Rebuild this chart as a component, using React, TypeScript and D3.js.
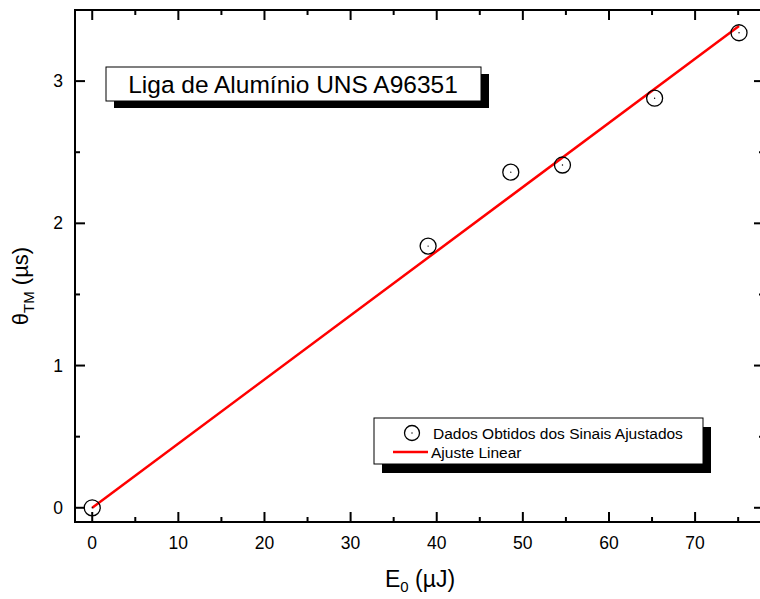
import React from "react";
import * as d3 from "d3";

const energy = [0, 39.0, 48.6, 54.6, 65.3, 75.1];
const theta = [0, 1.84, 2.36, 2.41, 2.88, 3.34];
const fitX = [0, 75.1];
const fitSlope = 0.0451;
const fitIntercept = 0;
const xMajor = [0, 10, 20, 30, 40, 50, 60, 70];
const xMinor = [5, 15, 25, 35, 45, 55, 65, 75];
const yMajor = [0, 1, 2, 3];
const yMinor = [0.5, 1.5, 2.5];
const titleText = "Liga de Alumínio UNS A96351";
const legendLabels = ["Dados Obtidos dos Sinais Ajustados", "Ajuste Linear"];

const W = 760;
const H = 599;
const L = 75, R = 764, T = 10, B = 522;
const FONT = "'Liberation Sans', Arial, sans-serif";

export default function App() {
  const x = d3.scaleLinear().domain([-2, 78]).range([L, R]);
  const y = d3.scaleLinear().domain([-0.1, 3.5]).range([B, T]);
  const line = d3.line<number>().x((d) => x(d)).y((d) => y(fitIntercept + fitSlope * d));

  return (
    <svg width={W} height={H} style={{ position: "absolute", left: 0, top: 0, background: "#fff" }} fontFamily={FONT}>
      <rect x={0} y={0} width={W} height={H} fill="#fff" />
      {/* frame */}
      <rect x={L} y={T} width={R - L} height={B - T} fill="none" stroke="#000" strokeWidth={2} />
      {/* x ticks bottom & top */}
      {xMajor.map((t) => (
        <g key={"xm" + t}>
          <line x1={x(t)} x2={x(t)} y1={B} y2={B - 10} stroke="#000" strokeWidth={2} />
          <line x1={x(t)} x2={x(t)} y1={T} y2={T + 10} stroke="#000" strokeWidth={2} />
          <text x={x(t)} y={549} textAnchor="middle" fontSize={17.5}>{t}</text>
        </g>
      ))}
      {xMinor.map((t) => (
        <g key={"xn" + t}>
          <line x1={x(t)} x2={x(t)} y1={B} y2={B - 5} stroke="#000" strokeWidth={2} />
          <line x1={x(t)} x2={x(t)} y1={T} y2={T + 5} stroke="#000" strokeWidth={2} />
        </g>
      ))}
      {yMajor.map((t) => (
        <g key={"ym" + t}>
          <line x1={L} x2={L + 10} y1={y(t)} y2={y(t)} stroke="#000" strokeWidth={2} />
          <line x1={R} x2={R - 10} y1={y(t)} y2={y(t)} stroke="#000" strokeWidth={2} />
          <text x={63} y={y(t) + 6} textAnchor="end" fontSize={17.5}>{t}</text>
        </g>
      ))}
      {yMinor.map((t) => (
        <g key={"yn" + t}>
          <line x1={L} x2={L + 5} y1={y(t)} y2={y(t)} stroke="#000" strokeWidth={2} />
          <line x1={R} x2={R - 5} y1={y(t)} y2={y(t)} stroke="#000" strokeWidth={2} />
        </g>
      ))}
      {/* fit line */}
      <path d={line(fitX) || ""} fill="none" stroke="#ff0000" strokeWidth={2.5} />
      {/* data points */}
      {energy.map((e, i) => (
        <g key={"p" + i}>
          <circle cx={x(e)} cy={y(theta[i])} r={8} fill="none" stroke="#000" strokeWidth={1.3} />
          <circle cx={x(e)} cy={y(theta[i])} r={0.7} fill="#000" />
        </g>
      ))}
      {/* title box */}
      <rect x={114} y={74} width={375} height={34} fill="#000" />
      <rect x={106} y={67} width={375} height={34} fill="#fff" stroke="#000" strokeWidth={1} />
      <text x={293} y={93} textAnchor="middle" fontSize={24.5}>{titleText}</text>
      {/* legend */}
      <rect x={382} y={427} width={329} height={46} fill="#000" />
      <rect x={374} y={418} width={329} height={46} fill="#fff" stroke="#000" strokeWidth={1} />
      <circle cx={412} cy={433} r={7.5} fill="none" stroke="#000" strokeWidth={1.3} />
      <circle cx={412} cy={433} r={0.7} fill="#000" />
      <text x={433} y={439} fontSize={15.5}>{legendLabels[0]}</text>
      <line x1={393} x2={428} y1={452} y2={452} stroke="#ff0000" strokeWidth={2.5} />
      <text x={431} y={458} fontSize={15.5}>{legendLabels[1]}</text>
      {/* x axis label */}
      <text x={420} y={587} textAnchor="middle" fontSize={23}>
        <tspan>E</tspan>
        <tspan fontSize={15} dy={5}>0</tspan>
        <tspan dy={-5}> (µJ)</tspan>
      </text>
      {/* y axis label */}
      <text transform="translate(28,286) rotate(-90)" textAnchor="middle" fontSize={22}>
        <tspan>θ</tspan>
        <tspan fontSize={15} dy={6}>TM</tspan>
        <tspan dy={-6}> (µs)</tspan>
      </text>
    </svg>
  );
}
